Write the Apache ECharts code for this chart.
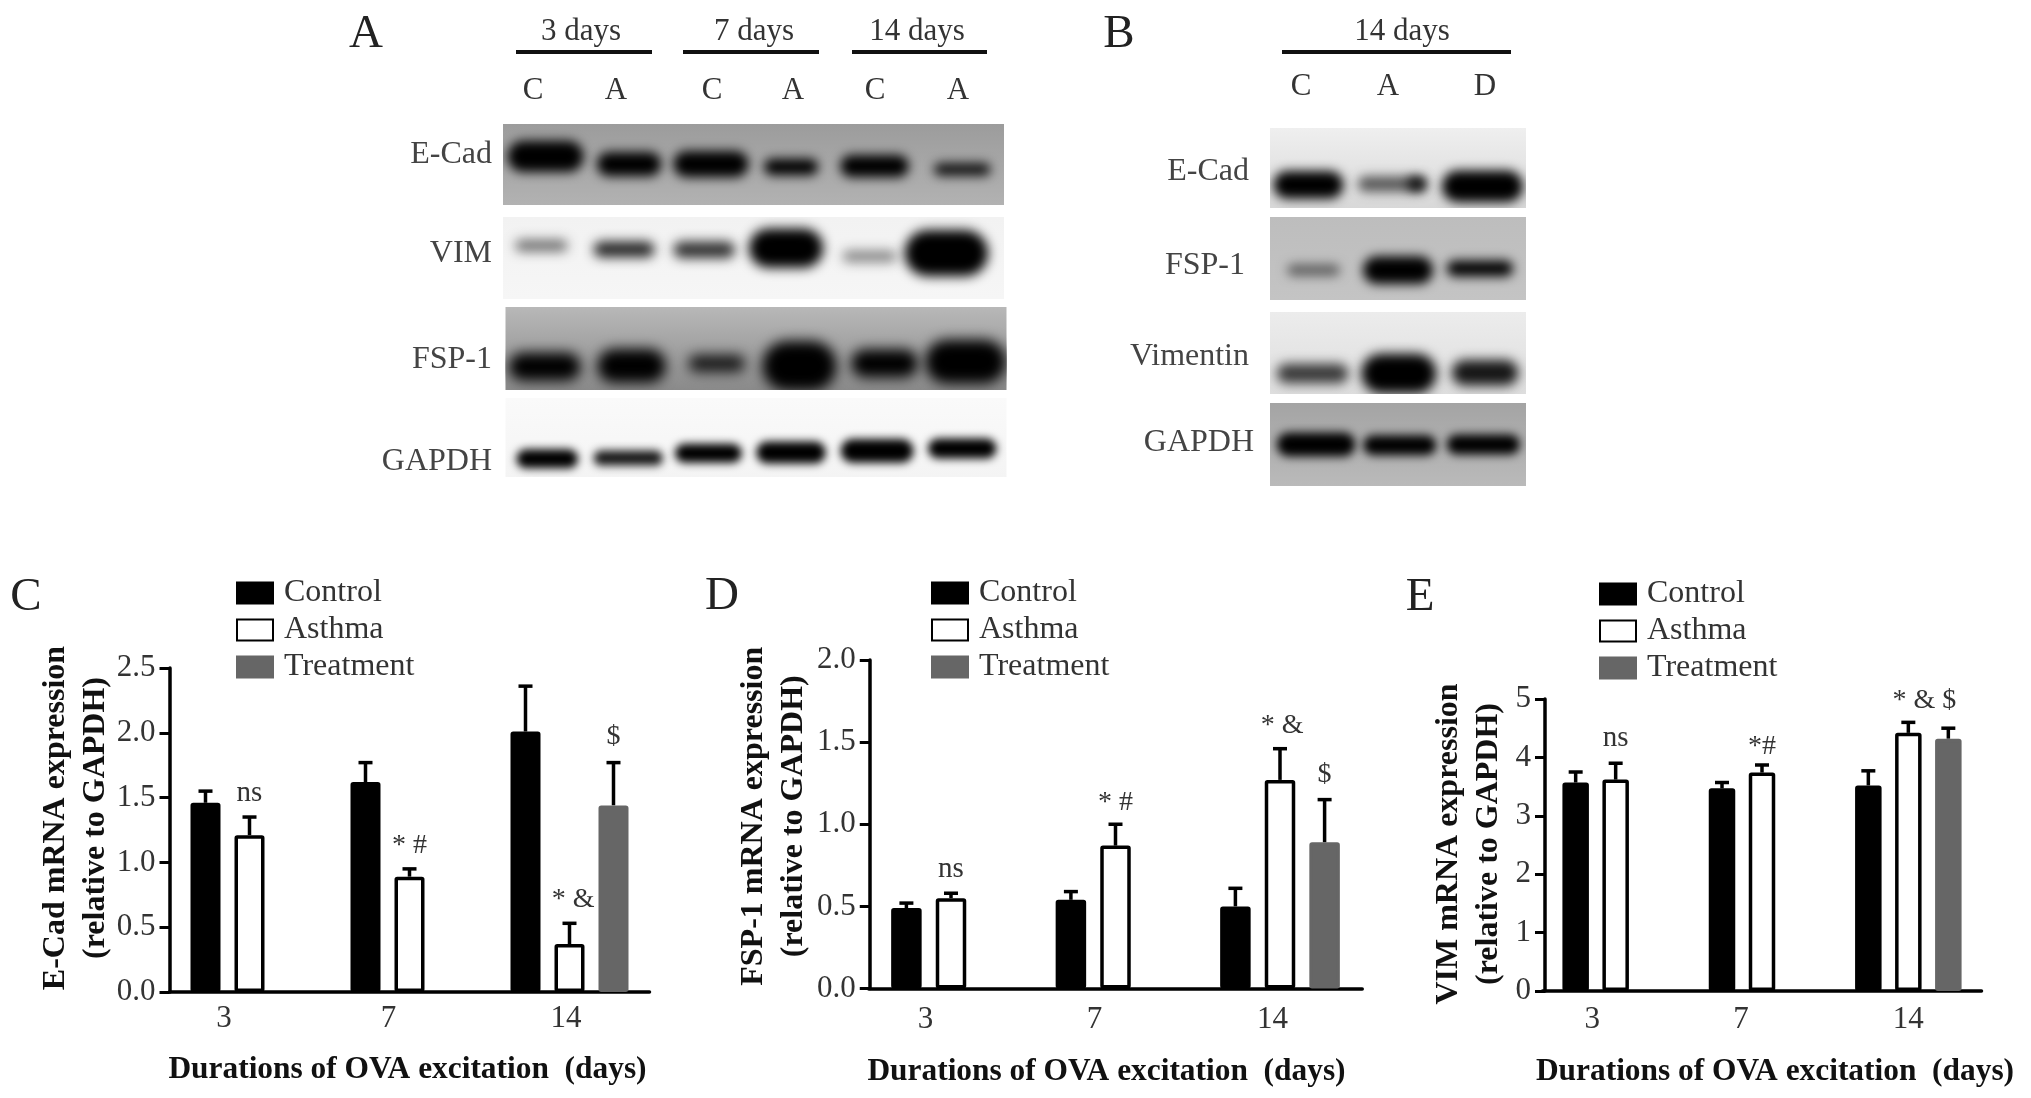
<!DOCTYPE html>
<html>
<head>
<meta charset="utf-8">
<title>E-Cad, FSP-1, VIM</title>
<script src="https://cdn.jsdelivr.net/npm/echarts@6/dist/echarts.min.js"></script>
<style>
html, body { margin: 0; padding: 0; background: #fff; }
#main { width: 2031px; height: 1098px; filter: blur(0.6px); }
</style>
</head>
<body>
<div id="main"></div>
<script>
// bar charts, values
var days = ["3", "7", "14"];
var groups = ["Control", "Asthma", "Treatment"];

var ecadControl = [1.46, 1.62, 2.01];
var ecadAsthma = [1.21, 0.89, 0.37];
var ecadTreatment = [null, null, 1.44];
var ecadControlTop = [1.55, 1.77, 2.36];
var ecadAsthmaTop = [1.35, 0.95, 0.53];
var ecadTreatmentTop = [null, null, 1.77];

var fspControl = [0.49, 0.54, 0.5];
var fspAsthma = [0.55, 0.87, 1.27];
var fspTreatment = [null, null, 0.89];
var fspControlTop = [0.52, 0.59, 0.61];
var fspAsthmaTop = [0.58, 1.0, 1.46];
var fspTreatmentTop = [null, null, 1.15];

var vimControl = [3.57, 3.47, 3.52];
var vimAsthma = [3.62, 3.74, 4.42];
var vimTreatment = [null, null, 4.32];
var vimControlTop = [3.75, 3.57, 3.77];
var vimAsthmaTop = [3.9, 3.87, 4.6];
var vimTreatmentTop = [null, null, 4.5];

// significance marks: category, slot, height on the y axis, text
var ecadMarks = [[0, 0, 1.53, "ns"], [1, 0, 1.13, "* #"], [2, 0.08, 0.71, "* &"], [2, 1, 1.97, "$"]];
var fspMarks = [[0, 0, 0.725, "ns"], [1, 0, 1.13, "* #"], [2, 0.05, 1.6, "* &"], [2, 1, 1.3, "$"]];
var vimMarks = [[0, 0, 4.33, "ns"], [1, 0, 4.18, "*#"], [2, 0.4, 4.97, "* & $"]];

// blot bands: lane, height in strip (0-1), width in lanes, thickness (0-1), darkness
var blotAEcad = [[0.51, 0.4, 0.91, 0.32, 1], [1.51, 0.495, 0.77, 0.25, 1], [2.49, 0.495, 0.9, 0.27, 1], [3.45, 0.53, 0.65, 0.17, 1], [4.45, 0.52, 0.82, 0.23, 1], [5.5, 0.56, 0.68, 0.13, 0.9]];
var blotAVim = [[0.46, 0.35, 0.63, 0.12, 0.55], [1.45, 0.395, 0.73, 0.16, 0.85], [2.41, 0.4, 0.74, 0.17, 0.8], [3.39, 0.38, 0.89, 0.4, 1], [4.39, 0.48, 0.65, 0.12, 0.45], [5.31, 0.44, 1.0, 0.47, 1]];
var blotAFsp = [[0.47, 0.72, 0.86, 0.28, 1], [1.51, 0.71, 0.82, 0.34, 1], [2.53, 0.68, 0.68, 0.17, 0.85], [3.52, 0.71, 0.89, 0.5, 1], [4.54, 0.68, 0.8, 0.28, 1], [5.51, 0.66, 0.97, 0.44, 1]];
var blotAGapdh = [[0.5, 0.77, 0.74, 0.2, 1], [1.47, 0.76, 0.83, 0.16, 0.9], [2.43, 0.7, 0.8, 0.2, 1], [3.42, 0.69, 0.83, 0.23, 1], [4.45, 0.67, 0.87, 0.25, 1], [5.47, 0.64, 0.82, 0.21, 1]];
var blotBEcad = [[0.45, 0.71, 0.82, 0.29, 1], [1.43, 0.7, 0.8, 0.16, 0.6], [1.72, 0.7, 0.22, 0.14, 0.9], [2.49, 0.73, 0.95, 0.33, 1]];
var blotBFsp = [[0.51, 0.64, 0.62, 0.12, 0.5], [1.5, 0.64, 0.82, 0.28, 1], [2.46, 0.62, 0.78, 0.16, 1]];
var blotBVim = [[0.5, 0.75, 0.84, 0.2, 0.75], [1.51, 0.75, 0.88, 0.4, 1], [2.52, 0.74, 0.78, 0.26, 0.9]];
var blotBGapdh = [[0.54, 0.5, 0.92, 0.24, 1], [1.52, 0.51, 0.86, 0.2, 1], [2.5, 0.5, 0.86, 0.2, 1]];

var serif = "Liberation Serif";
var OFF = 3000; // bands are painted off canvas, only their blurred shadow shows
var THICK = 1.2;

var panels = [
  {
    box: { left: 169.5, top: 668, width: 480, height: 324 },
    max: 2.5, step: 0.5, digits: 1,
    name: "E-Cad mRNA expression\n(relative to GAPDH)", nameGap: 53.5, namePad: [0, 0, 0, 24], axisOffset: 0,
    barWidth: 30, spacing: 44,
    values: [ecadControl, ecadAsthma, ecadTreatment],
    tops: [ecadControlTop, ecadAsthmaTop, ecadTreatmentTop],
    marks: ecadMarks,
    legendLeft: 231, legendTop: 572, xNamePad: [0, 4, 0, 0], xNameGap: 62,
    labelShift: [51, 42, 7], labelMargin: 11
  },
  {
    box: { left: 868.75, top: 660, width: 493.5, height: 328.5 },
    max: 2, step: 0.5, digits: 1,
    name: "FSP-1 mRNA expression\n(relative to GAPDH)", nameGap: 56, namePad: [0, 0, 0, 16], axisOffset: -1,
    barWidth: 30.5, spacing: 44.6,
    values: [fspControl, fspAsthma, fspTreatment],
    tops: [fspControlTop, fspAsthmaTop, fspTreatmentTop],
    marks: fspMarks,
    legendLeft: 926, legendTop: 572, xNamePad: [0, 18, 0, 0], xNameGap: 68,
    labelShift: [51, 42, 15], labelMargin: 16
  },
  {
    box: { left: 1542.5, top: 699, width: 439, height: 292 },
    max: 5, step: 1, digits: 0,
    name: "VIM mRNA expression\n(relative to GAPDH)", nameGap: 36, namePad: [0, 0, 0, 2], axisOffset: -2.5,
    barWidth: 26.5, spacing: 40,
    values: [vimControl, vimAsthma, vimTreatment],
    tops: [vimControlTop, vimAsthmaTop, vimTreatmentTop],
    marks: vimMarks,
    legendLeft: 1594, legendTop: 573, xNamePad: [0, 2, 0, 28], xNameGap: 65,
    labelShift: [47, 42, 0], labelMargin: 13
  }
];

var strips = [
  { box: [503, 124, 501, 81], lanes: 6, bands: blotAEcad, from: "#9c9c9c", to: "#b2b2b2", blur: 11 },
  { box: [503, 217, 501, 82], lanes: 6, bands: blotAVim, from: "#f2f2f2", to: "#f6f6f6", blur: 12 },
  { box: [505.5, 307, 501, 83], lanes: 6, bands: blotAFsp, from: "#b8b8b8", to: "#8a8a8a", blur: 13 },
  { box: [505.5, 398, 501, 79], lanes: 6, bands: blotAGapdh, from: "#fafafa", to: "#f4f4f4", blur: 9 },
  { box: [1270, 128, 256, 80], lanes: 3, bands: blotBEcad, from: "#efefef", to: "#d8d8d8", blur: 11 },
  { box: [1270, 217, 256, 83], lanes: 3, bands: blotBFsp, from: "#bdbdbd", to: "#c4c4c4", blur: 11 },
  { box: [1270, 312, 256, 82], lanes: 3, bands: blotBVim, from: "#ececec", to: "#dedede", blur: 12 },
  { box: [1270, 403, 256, 83], lanes: 3, bands: blotBGapdh, from: "#a4a4a4", to: "#bababa", blur: 10 }
];

var grids = [], xAxes = [], yAxes = [], series = [], legends = [];

panels.forEach(function (p, i) {
  grids.push(p.box);
  var rich = {};
  p.labelShift.forEach(function (s, k) {
    rich["t" + k] = { fontFamily: serif, fontSize: 31, color: "#333", padding: [0, s, 0, 0] };
  });
  xAxes.push({
    gridIndex: i,
    type: "category",
    data: days,
    name: "Durations of OVA excitation  (days)",
    nameLocation: "middle",
    nameGap: p.xNameGap,
    nameMoveOverlap: false,
    nameTextStyle: { fontFamily: serif, fontWeight: "bold", fontSize: 31.4, color: "#111", padding: p.xNamePad },
    axisLine: { lineStyle: { color: "#000", width: 3.5 } },
    axisTick: { alignWithLabel: true, length: 10, lineStyle: { color: "#000", width: 3 } },
    axisLabel: {
      margin: p.labelMargin,
      formatter: function (v, idx) { return "{t" + idx + "|" + v + "}"; },
      rich: rich
    }
  });
  yAxes.push({
    gridIndex: i,
    type: "value",
    min: 0,
    max: p.max,
    interval: p.step,
    offset: p.axisOffset,
    name: p.name,
    nameLocation: "middle",
    nameGap: p.nameGap,
    nameMoveOverlap: false,
    nameTextStyle: { fontFamily: serif, fontWeight: "bold", fontSize: 32, lineHeight: 40, color: "#111", padding: p.namePad },
    axisLine: { show: true, lineStyle: { color: "#000", width: 3.5 } },
    axisTick: { show: true, length: 10, lineStyle: { color: "#000", width: 3 } },
    splitLine: { show: false },
    axisLabel: {
      margin: 14,
      fontFamily: serif,
      fontSize: 31,
      color: "#333",
      formatter: function (v) { return v.toFixed(p.digits); }
    }
  });

  var styles = [
    { color: "#000", borderColor: "#000" },
    { color: "#fff", borderColor: "#000" },
    { color: "#666", borderColor: "#666" }
  ];
  groups.forEach(function (g, k) {
    series.push({
      name: g,
      type: "bar",
      xAxisIndex: i,
      yAxisIndex: i,
      data: p.values[k],
      barWidth: p.barWidth,
      barGap: ((p.spacing - p.barWidth) / p.barWidth * 100) + "%",
      z: 3,
      itemStyle: { color: styles[k].color, borderColor: styles[k].borderColor, borderWidth: 3.5, borderRadius: 1 }
    });
    // error bars, upper arm only
    var err = [];
    p.values[k].forEach(function (v, c) {
      if (v !== null) err.push([c, v, p.tops[k][c]]);
    });
    series.push({
      type: "custom",
      xAxisIndex: i,
      yAxisIndex: i,
      z: 2,
      silent: true,
      data: err,
      encode: { x: 0, y: [1, 2] },
      renderItem: function (params, api) {
        var low = api.coord([api.value(0), api.value(1)]);
        var high = api.coord([api.value(0), api.value(2)]);
        var x = low[0] + (k - 1) * p.spacing;
        var st = { stroke: "#000", lineWidth: 3.5 };
        return {
          type: "group",
          children: [
            { type: "line", shape: { x1: x, y1: low[1], x2: x, y2: high[1] }, style: st },
            { type: "line", shape: { x1: x - 7, y1: high[1], x2: x + 7, y2: high[1] }, style: st }
          ]
        };
      }
    });
  });
  // ns, *, #, & and $ above the bars
  series.push({
    type: "custom",
    xAxisIndex: i,
    yAxisIndex: i,
    z: 4,
    silent: true,
    data: p.marks.map(function (m) { return [m[0], m[2]]; }),
    encode: { x: 0, y: 1 },
    renderItem: function (params, api) {
      var m = p.marks[params.dataIndex];
      var c = api.coord([api.value(0), api.value(1)]);
      return {
        type: "text",
        style: {
          text: m[3],
          x: c[0] + m[1] * p.spacing,
          y: c[1],
          fontFamily: serif,
          fontSize: m[3] === "ns" ? 29 : 28,
          fill: "#333",
          align: "center",
          verticalAlign: "middle"
        }
      };
    }
  });
  legends.push({
    data: groups,
    left: p.legendLeft,
    top: p.legendTop,
    orient: "vertical",
    icon: "rect",
    itemWidth: 36,
    itemHeight: 21,
    itemGap: 5,
    selectedMode: false,
    textStyle: { fontFamily: serif, fontSize: 32, color: "#333", padding: [0, 0, 0, 6] }
  });
});

// blot strips, each one its own small grid
strips.forEach(function (s, n) {
  var i = panels.length + n;
  grids.push({
    left: s.box[0], top: s.box[1], width: s.box[2], height: s.box[3],
    show: true,
    borderWidth: 0,
    backgroundColor: new echarts.graphic.LinearGradient(0, 0, 0, 1, [
      { offset: 0, color: s.from },
      { offset: 1, color: s.to }
    ])
  });
  xAxes.push({ gridIndex: i, type: "value", min: 0, max: s.lanes, show: false });
  yAxes.push({ gridIndex: i, type: "value", min: 0, max: 1, inverse: true, show: false });
  series.push({
    type: "custom",
    xAxisIndex: i,
    yAxisIndex: i,
    silent: true,
    clip: true,
    data: s.bands,
    encode: { x: 0, y: 1 },
    renderItem: function (params, api) {
      var c = api.coord([api.value(0), api.value(1)]);
      var size = api.size([api.value(2), api.value(3)]);
      var w = Math.abs(size[0]), h = Math.abs(size[1]) * THICK;
      return {
        type: "rect",
        shape: { x: c[0] - w / 2 - OFF, y: c[1] - h / 2, width: w, height: h, r: h / 2 },
        style: {
          fill: "#000",
          shadowBlur: s.blur,
          shadowOffsetX: OFF,
          shadowColor: "rgba(0,0,0," + api.value(4) + ")"
        }
      };
    }
  });
});

// figure text that belongs to no axis
function label(text, x, y, size, align, color) {
  return {
    type: "text",
    x: x,
    y: y,
    silent: true,
    style: { text: text, fontFamily: serif, fontSize: size, fill: color || "#333", align: align || "center", verticalAlign: "middle" }
  };
}
function rule(x1, x2, y) {
  return { type: "line", silent: true, shape: { x1: x1, y1: y, x2: x2, y2: y }, style: { stroke: "#111", lineWidth: 4 } };
}
var notes = [
  label("A", 366, 35, 47, "center", "#222"),
  label("B", 1119, 35, 47, "center", "#222"),
  label("C", 26, 598, 47, "center", "#222"),
  label("D", 722, 597, 47, "center", "#222"),
  label("E", 1420, 598, 47, "center", "#222"),
  label("3 days", 581, 32, 31), label("7 days", 754, 32, 31), label("14 days", 917, 32, 31),
  rule(516, 652, 52), rule(683, 819, 52), rule(852, 987, 52),
  label("C", 533, 91, 31), label("A", 616, 91, 31), label("C", 712, 91, 31),
  label("A", 793, 91, 31), label("C", 875, 91, 31), label("A", 958, 91, 31),
  label("E-Cad", 492, 155, 32, "right", "#444"), label("VIM", 492, 254, 32, "right", "#444"),
  label("FSP-1", 492, 360, 32, "right", "#444"), label("GAPDH", 492, 462, 32, "right", "#444"),
  label("14 days", 1402, 32, 31), rule(1282, 1511, 52),
  label("C", 1301, 87, 31), label("A", 1388, 87, 31), label("D", 1485, 87, 31),
  label("E-Cad", 1249, 172, 32, "right", "#444"), label("FSP-1", 1245, 266, 32, "right", "#444"),
  label("Vimentin", 1249, 357, 32, "right", "#444"), label("GAPDH", 1254, 443, 32, "right", "#444")
];

var chartDom = document.getElementById("main");
var myChart = echarts.init(chartDom);
myChart.setOption({
  animation: false,
  backgroundColor: "#fff",
  tooltip: { show: false },
  grid: grids,
  xAxis: xAxes,
  yAxis: yAxes,
  legend: legends,
  series: series,
  graphic: { elements: notes }
});
</script>
</body>
</html>
